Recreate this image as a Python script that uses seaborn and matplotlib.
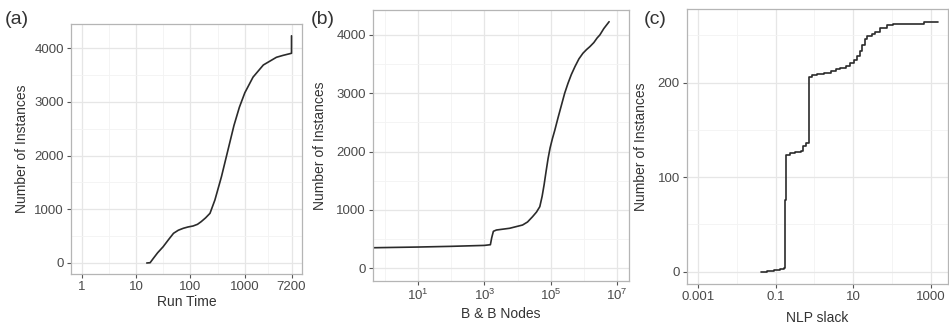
import numpy as np
import pandas as pd
import matplotlib
matplotlib.use("Agg")
import matplotlib.pyplot as plt
import seaborn as sns
from matplotlib.ticker import FixedLocator, FixedFormatter, NullFormatter

# ---------------- data ----------------
# (a) Run Time vs cumulative number of instances
runtime_x = [15.8, 18.2, 20.9, 25.0, 31.6, 40.0, 49.0, 60.0, 74.0, 90.0, 112, 135, 158, 190,
             229, 282, 372, 490, 631, 794, 1000, 1413, 2188, 3802, 5000, 7200, 7200]
runtime_y = [0, 5, 87, 190, 303, 440, 553, 610, 646, 670, 689, 720, 770, 840,
             925, 1173, 1607, 2104, 2560, 2900, 3170, 3460, 3687, 3830, 3865, 3905, 4230]

# (b) B & B nodes vs cumulative number of instances
nodes_x = [0.44, 10, 100, 1000, 1514, 1660, 1862, 2291, 5754, 14125, 19953, 28184, 37154,
           46774, 54954, 63096, 72444, 83176, 95499, 112202, 131826, 165959, 208930,
           263027, 331131, 416869, 537032, 707946, 933254, 1202264, 1513561, 1995262,
           2511886, 3019952, 3981072, 5754399]
nodes_y = [348, 360, 372, 388, 400, 520, 630, 652, 682, 738, 790, 880, 960,
           1053, 1230, 1430, 1660, 1880, 2060, 2220, 2360, 2580, 2790, 3000, 3170,
           3320, 3457, 3590, 3686, 3750, 3800, 3870, 3950, 4000, 4110, 4228]

# (c) NLP slack vs cumulative number of instances (step curve)
slack_x = [0.041, 0.06, 0.09, 0.13, 0.165, 0.18, 0.185, 0.24, 0.32, 0.44, 0.52, 0.6, 0.71,
           0.72, 0.73, 0.85, 1.2, 1.8, 2.6, 3.5, 4.6, 6.5, 8.4, 10.5, 12.6, 15, 17, 20,
           23, 30, 37, 50, 74, 107, 650, 1500]
slack_y = [0, 1, 2, 3, 4, 76, 124, 126, 127, 128, 133, 136, 140,
           180, 206, 208, 209, 210, 212, 214, 216, 218, 221, 224, 228, 234, 240, 246,
           249, 252, 254, 258, 261, 262, 264, 264]

panel_tags = ["(a)", "(b)", "(c)"]
x_titles = ["Run Time", "B & B Nodes", "NLP slack"]
y_title = "Number of Instances"

a_xticks = [1, 10, 100, 1000, 7200]
a_xticklabels = ["1", "10", "100", "1000", "7200"]
a_yticks = [0, 1000, 2000, 3000, 4000]
b_xticks = [10, 1000, 100000, 10000000]
b_xticklabels = [r"$10^{1}$", r"$10^{3}$", r"$10^{5}$", r"$10^{7}$"]
b_yticks = [0, 1000, 2000, 3000, 4000]
c_xticks = [0.001, 0.1, 10, 1000]
c_xticklabels = ["0.001", "0.1", "10", "1000"]
c_yticks = [0, 100, 200]

# ---------------- style ----------------
sns.set_style("white")
plt.rcParams["font.family"] = ["Liberation Sans", "DejaVu Sans"]
plt.rcParams["mathtext.fontset"] = "custom"
plt.rcParams["mathtext.rm"] = "Liberation Sans"
plt.rcParams["mathtext.it"] = "Liberation Sans"

W, H = 949, 326
fig = plt.figure(figsize=(W / 100, H / 100), dpi=100)


def px_axes(left, top, right, bottom):
    return fig.add_axes([left / W, 1 - bottom / H, (right - left) / W, (bottom - top) / H])


line_col = "#2b2b2b"
grid_major = "#e6e6e6"
grid_minor = "#f3f3f3"
border = "#b5b5b5"
tick_col = "#555555"


def style(ax, xticks, xlabels, yticks, xminor, yminor, xlim, ylim, xtitle, ylab_x, xlab_y):
    ax.set_xscale("log")
    ax.set_xlim(*xlim)
    ax.set_ylim(*ylim)
    ax.xaxis.set_major_locator(FixedLocator(xticks))
    ax.xaxis.set_major_formatter(FixedFormatter(xlabels))
    ax.xaxis.set_minor_locator(FixedLocator(xminor))
    ax.xaxis.set_minor_formatter(NullFormatter())
    ax.yaxis.set_major_locator(FixedLocator(yticks))
    ax.yaxis.set_minor_locator(FixedLocator(yminor))
    ax.grid(True, which="major", color=grid_major, lw=0.9, zorder=0)
    ax.grid(True, which="minor", color=grid_minor, lw=0.6, zorder=0)
    ax.set_axisbelow(True)
    ax.tick_params(which="major", direction="out", length=3.2, width=0.8, color=tick_col,
                   labelsize=9.5, labelcolor="#4a4a4a", pad=2, bottom=True, left=True)
    ax.tick_params(which="minor", length=0, bottom=False, left=False)
    for s in ax.spines.values():
        s.set_color(border)
        s.set_linewidth(0.9)
    ax.set_xlabel(xtitle, fontsize=10, color="#333333")
    ax.set_ylabel(y_title, fontsize=10, color="#333333")
    ax.xaxis.set_label_coords(0.5, xlab_y)
    ax.yaxis.set_label_coords(ylab_x, 0.5)
    ax.xaxis.label.set_va("top")


# panel (a)
ax1 = px_axes(71, 24, 302, 274)
sns.lineplot(x=runtime_x, y=runtime_y, ax=ax1, color=line_col, lw=1.2,
             sort=False, estimator=None)
style(ax1, a_xticks, a_xticklabels, a_yticks,
      [10 ** 0.5, 10 ** 1.5, 10 ** 2.5, 10 ** 3.43], [500, 1500, 2500, 3500],
      (10 ** -0.193, 10 ** 4.05), (-205, 4450), x_titles[0], -0.182, -0.085)

# panel (b)
ax2 = px_axes(373, 10, 629, 281)
sns.lineplot(x=nodes_x, y=nodes_y, ax=ax2, color=line_col, lw=1.2,
             sort=False, estimator=None)
style(ax2, b_xticks, b_xticklabels, b_yticks,
      [1, 100, 10000, 1000000], [500, 1500, 2500, 3500],
      (10 ** -0.36, 10 ** 7.36), (-223, 4429), x_titles[1], -0.18, -0.095)

# panel (c)
ax3 = px_axes(687, 9, 948, 284)
sns.lineplot(x=slack_x, y=slack_y, ax=ax3, color=line_col, lw=1.2,
             sort=False, estimator=None, drawstyle="steps-post")
style(ax3, c_xticks, c_xticklabels, c_yticks,
      [0.01, 1, 100], [50, 150, 250],
      (10 ** -3.28, 10 ** 3.44), (-13, 278), x_titles[2], -0.149, -0.097)

# panel tags
for tag, (xp, yp) in zip(panel_tags, [(17, 20), (323, 19), (655, 20)]):
    fig.text(xp / W, 1 - yp / H, tag, fontsize=14, color="#333333",
             ha="center", va="center")

fig.savefig("out.png", dpi=100)
